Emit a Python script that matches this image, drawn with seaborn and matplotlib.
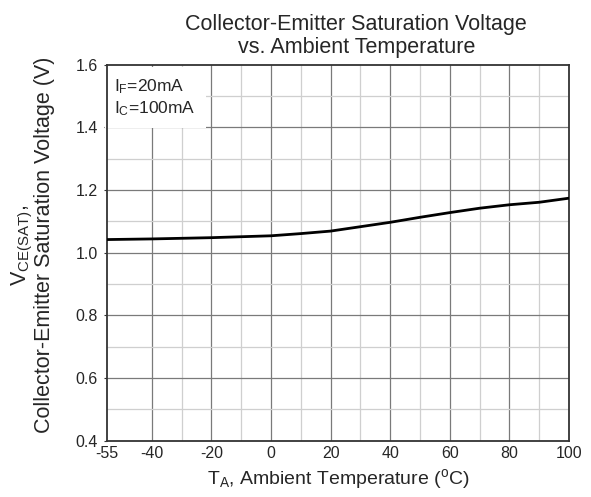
import numpy as np
import pandas as pd
import matplotlib
matplotlib.use("Agg")
import matplotlib.pyplot as plt
import seaborn as sns

# values
temp_c = [-55, -40, -20, 0, 10, 20, 30, 40, 50, 60, 70, 80, 90, 100]
vce_sat = [1.042, 1.044, 1.048, 1.054, 1.061, 1.069, 1.083, 1.097, 1.113,
           1.128, 1.142, 1.153, 1.161, 1.174]
x_ticks = [-55, -40, -20, 0, 20, 40, 60, 80, 100]
y_ticks = [0.4, 0.6, 0.8, 1.0, 1.2, 1.4, 1.6]

df = pd.DataFrame({"temp": temp_c, "vce": vce_sat})

sns.set_style("white")
plt.rcParams["font.family"] = ["Liberation Sans", "DejaVu Sans"]
plt.rcParams["mathtext.fontset"] = "custom"
plt.rcParams["mathtext.rm"] = "Liberation Sans"
plt.rcParams["axes.unicode_minus"] = False

fig = plt.figure(figsize=(5.91, 4.97), dpi=100)
ax = fig.add_axes([0.181, 0.113, 0.782, 0.757])

# grid: minor every 10 C / 0.1 V, major at ticks
for xv in range(-40, 100, 10):
    ax.axvline(xv, color="#7a7a7a" if xv % 20 == 0 else "#cfcfcf", lw=0.9, zorder=1)
for yv in np.arange(0.5, 1.6, 0.1):
    ax.axhline(yv, color="#7a7a7a" if round(yv * 10) % 2 == 0 else "#cfcfcf", lw=0.9, zorder=1)

sns.lineplot(data=df, x="temp", y="vce", color="black", lw=2.0, ax=ax, zorder=3)

ax.set_xlim(-55, 100)
ax.set_ylim(0.4, 1.6)
ax.set_xticks(x_ticks)
ax.set_yticks(y_ticks)
ax.set_yticklabels([f"{v:.1f}" for v in y_ticks])
ax.tick_params(labelsize=11.5, pad=4)
ax.tick_params(axis="y", length=2.5, width=0.8, color="#333333", left=True)
ax.tick_params(axis="x", length=0)
for s in ax.spines.values():
    s.set_color("#333333")
    s.set_linewidth(1.3)

ax.text(-52.5, 1.56, "$\\mathregular{I_F}$=20mA\n$\\mathregular{I_C}$=100mA",
        fontsize=12.5, va="top", ha="left", linespacing=1.25, zorder=2,
        bbox=dict(facecolor="white", edgecolor="none", pad=7))

ax.set_xlabel("$\\mathregular{T_A}$, Ambient Temperature ($\\mathregular{^o}$C)",
              fontsize=14, labelpad=4)
ax.set_ylabel("$\\mathregular{V_{CE(SAT)}}$,\nCollector-Emitter Saturation Voltage (V)",
              fontsize=15.5, linespacing=0.95)
ax.yaxis.set_label_coords(-0.113, 0.52)

fig.text(0.603, 0.972, "Collector-Emitter Saturation Voltage\nvs. Ambient Temperature",
         ha="center", va="top", fontsize=15.5, linespacing=1.1)

fig.savefig("out.png", dpi=100)
